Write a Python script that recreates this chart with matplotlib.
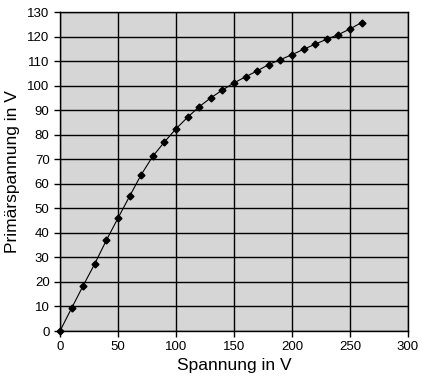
import matplotlib
matplotlib.use("Agg")
import matplotlib.pyplot as plt

# Messwerte
spannung = [0, 10, 20, 30, 40, 50, 60, 70, 80, 90, 100, 110, 120, 130,
            140, 150, 160, 170, 180, 190, 200, 210, 220, 230, 240, 250, 260]
primaer = [0, 9.3, 18.5, 27.4, 37.0, 46.0, 54.9, 63.7, 71.2, 77.0, 82.4,
           87.1, 91.4, 95.0, 98.2, 101.1, 103.6, 106.0, 108.6, 110.6, 112.6,
           114.8, 116.9, 118.9, 120.8, 123.1, 125.7]

x_ticks = [0, 50, 100, 150, 200, 250, 300]
y_ticks = list(range(0, 131, 10))

plt.rcParams['font.family'] = ['Liberation Sans', 'DejaVu Sans']

fig = plt.figure(figsize=(4.23, 3.81), dpi=100)
ax = fig.add_axes([0.1418, 0.1312, 0.8227, 0.8373])
ax.set_facecolor('#d6d6d6')

ax.plot(spannung, primaer, color='black', linewidth=0.8,
        marker='D', markersize=3.5, zorder=3, clip_on=False)

ax.set_xlim(0, 300)
ax.set_ylim(0, 130)
ax.set_xticks(x_ticks)
ax.set_yticks(y_ticks)
ax.grid(True, color='black', linewidth=1)
ax.set_axisbelow(True)
for s in ax.spines.values():
    s.set_color('black')
    s.set_linewidth(1)

ax.tick_params(direction='out', length=4, width=1, labelsize=9.5, colors='black')
ax.set_xlabel("Spannung in V", fontsize=12.5, labelpad=3)
ax.set_ylabel("Primärspannung in V", fontsize=12.5, labelpad=5)

fig.savefig("out.png", dpi=100)
